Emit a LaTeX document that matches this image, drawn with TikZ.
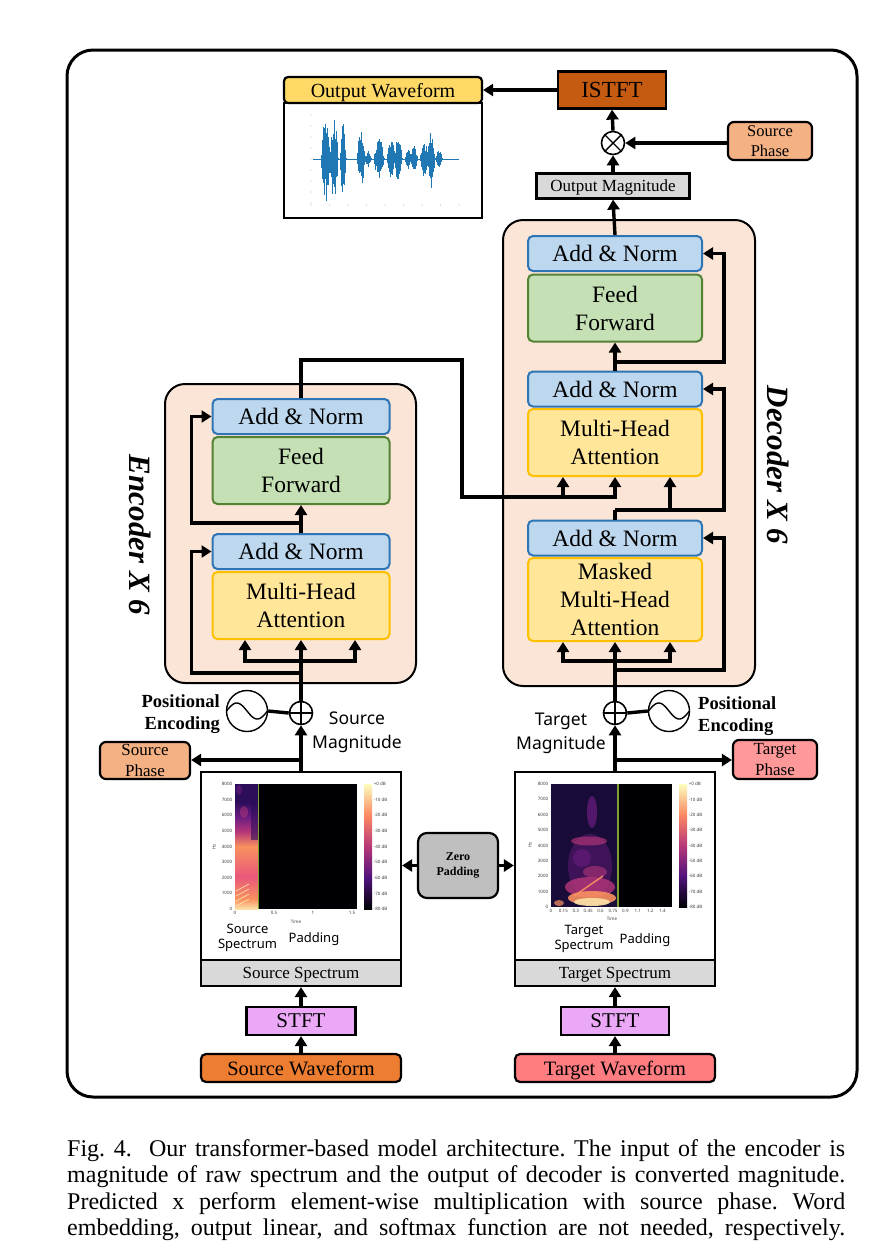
\documentclass[tikz,border=0pt]{standalone}
\usepackage{fontspec}
\setmainfont{Liberation Serif}
\newfontfamily\sansf{Noto Sans}
\usetikzlibrary{arrows.meta,calc}
\definecolor{anFill}{HTML}{BDD7EE}
\definecolor{anDraw}{HTML}{2E75B6}
\definecolor{ffFill}{HTML}{C5E0B4}
\definecolor{ffDraw}{HTML}{548235}
\definecolor{mhFill}{HTML}{FFE699}
\definecolor{mhDraw}{HTML}{FFC000}
\definecolor{peach}{HTML}{FBE5D6}
\definecolor{istftC}{HTML}{C55A11}
\definecolor{phaseC}{HTML}{F4B183}
\definecolor{tphaseC}{HTML}{FF9999}
\definecolor{twaveC}{HTML}{FF7C80}
\definecolor{swaveC}{HTML}{ED7D31}
\definecolor{stftC}{HTML}{EAA8F6}
\definecolor{grayC}{HTML}{D9D9D9}
\definecolor{zpC}{HTML}{BFBFBF}
\definecolor{yelC}{HTML}{FFD966}
\definecolor{waveC}{HTML}{1F77B4}
\definecolor{mA}{HTML}{000004}
\definecolor{mB}{HTML}{51127C}
\definecolor{mC}{HTML}{B73779}
\definecolor{mD}{HTML}{FC8961}
\definecolor{mE}{HTML}{FCFDBF}
\definecolor{vA}{HTML}{2B0D5A}
\definecolor{vB}{HTML}{6A1C81}
\definecolor{vC}{HTML}{B53679}
\definecolor{vD}{HTML}{E8587A}
\definecolor{vE}{HTML}{F9915F}
\definecolor{vF}{HTML}{FCE2A8}
\definecolor{vBg}{HTML}{1A0C38}
\definecolor{greenL}{HTML}{7CA033}
\pgfdeclareverticalshading{magmabar}{100bp}{color(0bp)=(mA); color(25bp)=(mA); color(37.5bp)=(mB); color(50bp)=(mC); color(62.5bp)=(mD); color(75bp)=(mE); color(100bp)=(mE)}
\pgfdeclareverticalshading{srcvoice}{100bp}{color(0bp)=(vF); color(25bp)=(vF); color(29bp)=(vE); color(38bp)=(vD); color(50bp)=(vE); color(56bp)=(vC); color(62bp)=(vB); color(68bp)=(vA); color(75bp)=(vA); color(100bp)=(vA)}
\begin{document}
\begin{tikzpicture}[x=1pt,y=-1pt,
  blk/.style={draw, rounded corners=5pt, line width=2pt, minimum width=174pt, inner sep=0pt, align=center, font=\fontsize{23.5}{28}\selectfont},
  an/.style={blk, fill=anFill, draw=anDraw, minimum height=35pt},
  ff/.style={blk, fill=ffFill, draw=ffDraw, minimum height=67pt},
  mh/.style={blk, fill=mhFill, draw=mhDraw, minimum height=67pt},
  framebox/.style={draw, fill=peach, rounded corners=20pt, line width=2pt, inner sep=0pt},
  conn/.style={line width=3.4pt},
  arr/.style={conn, -{Triangle[length=10pt,width=12pt]}},
  sqbox/.style={draw, line width=2.2pt, inner sep=0pt, align=center},
  rbox/.style={sqbox, rounded corners=6pt},
  oneline/.style={text depth=0pt},
  opcirc/.style={circle, draw, line width=1.6pt, fill=white, minimum size=23pt, inner sep=0pt},
  sinecirc/.style={circle, draw, line width=1.4pt, fill=white, minimum size=41pt, inner sep=0pt},
  ticklab/.style={font=\sansf\fontsize{4.5}{5}\selectfont, inner sep=0.6pt, text=black!75},
  poslab/.style={font=\bfseries\fontsize{18.5}{22}\selectfont, inner sep=0pt},
  maglab/.style={font=\sansf\fontsize{17.5}{24}\selectfont, inner sep=0pt, align=center},
  speclab/.style={font=\sansf\fontsize{13}{15}\selectfont, inner sep=0pt, align=center},
  wv/.style={draw=waveC, line width=0.55pt}
]
\fill[white] (0,0) rectangle (872,1256);
\useasboundingbox (0,0) rectangle (872,1256);

% outer frame
\node[draw, line width=3pt, rounded corners=26pt, minimum width=790pt, minimum height=1047pt, inner sep=0pt] (outer) at (462,573.5) {};

% ---------- top ----------
\node[sqbox, minimum width=198pt, minimum height=115pt] (owbox) at (383,160.5) {};
\node[rbox, oneline, rounded corners=4pt, fill=yelC, minimum width=198pt, minimum height=26pt, font=\fontsize{20}{24}\selectfont] (owhdr) at (383,90) {Output Waveform};
\node[sqbox, oneline, fill=istftC, minimum width=108pt, minimum height=37pt, font=\fontsize{23}{26}\selectfont] (istft) at (612,90) {ISTFT};
\node[opcirc] (mult) at (613,143) {};
\draw[line width=1.4pt] (mult.north east) -- (mult.south west) (mult.north west) -- (mult.south east);
\node[rbox, fill=phaseC, minimum width=84pt, minimum height=38pt, font=\fontsize{16.5}{20}\selectfont] (srcphT) at (770,141) {Source\\Phase};
\node[sqbox, oneline, fill=grayC, minimum width=153pt, minimum height=25pt, font=\fontsize{17}{20}\selectfont] (outmag) at (613,186) {Output Magnitude};

\draw[arr] (istft.west) -- (owhdr.east |- istft.west);
\draw[arr] (mult.north) -- (istft.south);
\draw[arr] (srcphT.west |- mult.east) -- (mult.east);
\draw[arr] (outmag.north) -- (mult.south);

% waveform plot
\foreach \yy in {115,126,...,204} \fill[black!25] (311,\yy) circle (0.6pt);
\foreach \xx in {311,329.5,...,460} \fill[black!25] (\xx,205) circle (0.6pt);
\draw[waveC, line width=0.6pt] (313,159) -- (459,159);
\pgfmathsetseed{42}
\foreach \bc/\bw/\ba in {326/5/44, 334/4/40, 343/3/36, 361/4/28, 368/3/8, 379/5/19, 391/4/18, 398/4/20, 408/3/10, 414/4/12, 424/4/18, 431/4/28, 439/3/8} {
  \pgfmathtruncatemacro\nn{4*\bw}
  \foreach \j in {0,...,\nn} {
    \pgfmathsetmacro\xx{\bc-\bw+\j*0.5}
    \pgfmathsetmacro\ee{\ba*(1-((\xx-\bc)/\bw)^2)+1}
    \pgfmathsetmacro\upA{\ee*(0.35+0.65*rnd)}
    \pgfmathsetmacro\dnA{\ee*(0.35+0.65*rnd)}
    \draw[wv] (\xx,159-\upA) -- (\xx,159+\dnA);
  }
}

% ---------- decoder ----------
\node[framebox, minimum width=252pt, minimum height=466pt] (decF) at (629,453) {};
\node[an] (dAN3) at (615,253.5) {Add \& Norm};
\node[ff] (dFF) at (615,308) {Feed\\Forward};
\node[an] (dAN2) at (615,389) {Add \& Norm};
\node[mh] (dMHA) at (615,442.5) {Multi-Head\\Attention};
\node[an] (dAN1) at (615,538) {Add \& Norm};
\node[mh, minimum height=83pt] (dMMHA) at (615,599.5) {Masked\\Multi-Head\\Attention};
\node[rotate=-90, font=\bfseries\itshape\fontsize{31}{31}\selectfont, inner sep=0pt] (decL) at (778,465) {Decoder X 6};

% ---------- encoder ----------
\node[framebox, minimum width=251pt, minimum height=299pt] (encF) at (290.5,533.5) {};
\node[an, minimum width=177pt] (eAN2) at (301,416.5) {Add \& Norm};
\node[ff, minimum width=177pt] (eFF) at (301,470.5) {Feed\\Forward};
\node[an, minimum width=177pt] (eAN1) at (301,551.5) {Add \& Norm};
\node[mh, minimum width=177pt] (eMHA) at (301,605.5) {Multi-Head\\Attention};
\node[rotate=-90, font=\bfseries\itshape\fontsize{31}{31}\selectfont, inner sep=0pt] (encL) at (140,535) {Encoder X 6};

% ---------- positional encoding / inputs ----------
\node[opcirc] (ePlus) at (301,713) {};
\draw[line width=1.4pt] (ePlus.north) -- (ePlus.south) (ePlus.west) -- (ePlus.east);
\node[sinecirc] (eSine) at (247,711) {};
\draw[line width=1.4pt, shift={(eSine.center)}] plot[domain=-20.5:20.5, samples=41, smooth] (\x, {-8*sin(8.78*(\x+20.5))});
\draw[conn] (eSine.east) -- (ePlus.west);
\node[poslab, align=right, anchor=east] (ePosL) at (220,714) {Positional\\Encoding};
\node[maglab] (eMag) at (357,732.5) {Source\\Magnitude};

\node[opcirc] (dPlus) at (615,713) {};
\draw[line width=1.4pt] (dPlus.north) -- (dPlus.south) (dPlus.west) -- (dPlus.east);
\node[sinecirc] (dSine) at (669,711) {};
\draw[line width=1.4pt, shift={(dSine.center)}] plot[domain=-20.5:20.5, samples=41, smooth] (\x, {-8*sin(8.78*(\x+20.5))});
\draw[conn] (dPlus.east) -- (dSine.west);
\node[poslab, align=left, anchor=west] (dPosL) at (698,716) {Positional\\Encoding};
\node[maglab] (dMag) at (561,733) {Target\\Magnitude};

\node[rbox, fill=phaseC, minimum width=90pt, minimum height=37pt, font=\fontsize{17}{21}\selectfont] (srcphL) at (145,760.5) {Source\\Phase};
\node[rbox, fill=tphaseC, minimum width=84pt, minimum height=39pt, font=\fontsize{17}{21}\selectfont] (tgtph) at (775,759.5) {Target\\Phase};

% ---------- spectrum boxes ----------
\node[sqbox, fill=white, minimum width=200pt, minimum height=188pt] (srcSpec) at (301,866) {};
\node[sqbox, oneline, fill=grayC, minimum width=200pt, minimum height=26pt, font=\fontsize{17}{20}\selectfont] (srcBand) at (301,973) {Source Spectrum};
\node[sqbox, fill=white, minimum width=200pt, minimum height=188pt] (tgtSpec) at (615,866) {};
\node[sqbox, oneline, fill=grayC, minimum width=200pt, minimum height=26pt, font=\fontsize{17}{20}\selectfont] (tgtBand) at (615,973) {Target Spectrum};
\node[rbox, rounded corners=9pt, fill=zpC, minimum width=80pt, minimum height=65pt, font=\bfseries\fontsize{12}{14.5}\selectfont] (zp) at (458,865.5) {Zero\\Padding};

% source spectrogram
\fill[mA] (235,784) rectangle (357,909);
\shade[shading=srcvoice] (235,784) rectangle (258,909);
\fill[vA, opacity=0.6] (251,784) rectangle (258,840);
\fill[vB, opacity=0.6] (239,790) ellipse (3pt and 5pt);
\fill[vC, opacity=0.5] (244,812) ellipse (4pt and 6pt);
\foreach \k in {0,1,2,3} \draw[vF, line width=0.7pt] (236,{906-\k*5}) -- (249,{899-\k*5});
\draw[greenL, line width=1.2pt] (258.5,784) -- (258.5,909);
\shade[shading=magmabar] (364,784) rectangle (372,909);
\foreach \i in {0,...,8} {
  \pgfmathtruncatemacro\vv{\i*1000}
  \pgfmathtruncatemacro\dd{\i*10}
  \node[ticklab, anchor=east] at (233,{909-\i*15.625}) {\vv};
  \node[ticklab, anchor=west] at (373,{784+\i*15.625}) {\ifnum\i=0 +0\else -\dd\fi\ dB};
}
\foreach \l/\xx in {0/235, 0.5/274, 1/313, 1.5/352} \node[ticklab, anchor=north] at (\xx,910.5) {\l};
\node[ticklab] at (296,922) {Time};
\node[ticklab, rotate=90] at (214,847) {Hz};
\node[speclab] (srcSL) at (247.5,937.5) {Source\\Spectrum};
\node[speclab, anchor=base] (srcPL) at (314,942) {Padding};

% target spectrogram
\fill[mA] (551,784) rectangle (672,907);
\fill[vBg] (551,784) rectangle (618,907);
\fill[vB, opacity=0.45] (590,866) ellipse (22pt and 32pt);
\fill[vB, opacity=0.7] (592,812) ellipse (5pt and 16pt);
\fill[vC, opacity=0.65] (589,841) ellipse (18pt and 4.5pt);
\fill[vB, opacity=0.6] (582,858) ellipse (9pt and 9pt);
\fill[vC, opacity=0.6] (595,872) ellipse (12pt and 6pt);
\fill[vC, opacity=0.8] (590,887) ellipse (25pt and 10pt);
\fill[vE, opacity=0.9] (592,898) ellipse (24pt and 7pt);
\fill[vF, opacity=0.9] (592,902) ellipse (18pt and 4pt);
\draw[vE, line width=1.5pt, opacity=0.9] (574,896) -- (603,876);
\fill[vE, opacity=0.7] (559,903) ellipse (5pt and 3pt);
\draw[greenL, line width=1.2pt] (618,784) -- (618,907);
\shade[shading=magmabar] (679,784) rectangle (687,907);
\foreach \i in {0,...,8} {
  \pgfmathtruncatemacro\vv{\i*1000}
  \pgfmathtruncatemacro\dd{\i*10}
  \node[ticklab, anchor=east] at (549,{907-\i*15.375}) {\vv};
  \node[ticklab, anchor=west] at (688,{784+\i*15.375}) {\ifnum\i=0 +0\else -\dd\fi\ dB};
}
\foreach \l [count=\i from 0] in {0,0.15,0.3,0.45,0.6,0.75,0.9,1.1,1.2,1.4} \node[ticklab, anchor=north] at ({551+\i*12.4},908.5) {\l};
\node[ticklab] at (612,919) {Time};
\node[ticklab, rotate=90] at (530,845) {Hz};
\node[speclab] (tgtSL) at (584,939) {Target\\Spectrum};
\node[speclab, anchor=base] (tgtPL) at (645,943) {Padding};

% ---------- bottom ----------
\node[sqbox, oneline, fill=stftC, minimum width=109pt, minimum height=28pt, font=\fontsize{21}{24}\selectfont] (sSTFT) at (301,1021) {STFT};
\node[rbox, oneline, rounded corners=5pt, fill=swaveC, minimum width=200pt, minimum height=28pt, font=\fontsize{20.4}{24}\selectfont] (sWave) at (301,1068) {Source Waveform};
\node[sqbox, oneline, fill=stftC, minimum width=108pt, minimum height=28pt, font=\fontsize{21}{24}\selectfont] (tSTFT) at (615,1021) {STFT};
\node[rbox, oneline, rounded corners=5pt, fill=twaveC, minimum width=200pt, minimum height=28pt, font=\fontsize{20.4}{24}\selectfont] (tWave) at (615,1068) {Target Waveform};

% ---------- connectors ----------
\draw[arr] (sWave.north) -- (sSTFT.south);
\draw[arr] (sSTFT.north) -- (srcBand.south);
\draw[arr] (tWave.north) -- (tSTFT.south);
\draw[arr] (tSTFT.north) -- (tgtBand.south);
\draw[arr] (zp.west) -- (srcSpec.east |- zp.west);
\draw[arr] (zp.east) -- (tgtSpec.west |- zp.east);

\draw[arr] (srcSpec.north) -- (ePlus.south);
\coordinate (eP) at (301,760);
\draw[arr] (eP) -- (srcphL.east |- eP);
\draw[arr] (tgtSpec.north) -- (dPlus.south);
\coordinate (dP) at (615,760);
\draw[arr] (dP) -- (tgtph.west |- dP);

% encoder internals
\draw[arr] (ePlus.north) -- (eMHA.south);
\coordinate (eB) at (301,661);
\draw[arr] (eB) -| ([xshift=-56pt]eMHA.south);
\draw[arr] (eB) -| ([xshift=54pt]eMHA.south);
\coordinate (eR1) at (301,673);
\draw[arr] (eR1) -| ([xshift=-20pt]eMHA.west) |- (eAN1.west);
\draw[arr] (eAN1.north) -- (eFF.south);
\coordinate (eR2) at (301,523);
\draw[arr] (eR2) -| ([xshift=-20pt]eFF.west) |- (eAN2.west);

% encoder -> decoder
\coordinate (x1) at (462,360);
\coordinate (x2) at (563,497);
\draw[arr] (eAN2.north) |- (x1) |- (x2) -- ([xshift=-52pt]dMHA.south);
\draw[arr] (x2) -| (dMHA.south);

% decoder internals
\draw[arr] (dPlus.north) -- (dMMHA.south);
\coordinate (dB) at (615,661);
\draw[arr] (dB) -| ([xshift=-52pt]dMMHA.south);
\draw[arr] (dB) -| ([xshift=55pt]dMMHA.south);
\coordinate (dR1) at (615,670);
\draw[arr] (dR1) -| ([xshift=21pt]dMMHA.east) |- (dAN1.east);
\coordinate (dR2) at (615,510);
\draw[conn] (dAN1.north) -- (dR2);
\draw[arr] (dR2) -| ([xshift=55pt]dMHA.south);
\draw[arr] (dR2) -| ([xshift=21pt]dMHA.east) |- (dAN2.east);
\draw[arr] (dAN2.north) -- (dFF.south);
\coordinate (dR3) at (615,362);
\draw[arr] (dR3) -| ([xshift=21pt]dFF.east) |- (dAN3.east);
\draw[arr] (dAN3.north) -- (outmag.south);

% ---------- caption ----------
\node[anchor=north west, inner sep=0pt, align=left, font=\fontsize{24}{26.3}\selectfont\frenchspacing] (cap) at (67,1139.5) {%
\makebox[778pt][s]{Fig. 4.\ \ Our transformer-based model architecture. The input of the encoder is}\\
\makebox[778pt][s]{magnitude of raw spectrum and the output of decoder is converted magnitude.}\\
\makebox[778pt][s]{Predicted x perform element-wise multiplication with source phase. Word}\\
\makebox[778pt][s]{embedding, output linear, and softmax function are not needed, respectively.}};
\end{tikzpicture}
\end{document}
